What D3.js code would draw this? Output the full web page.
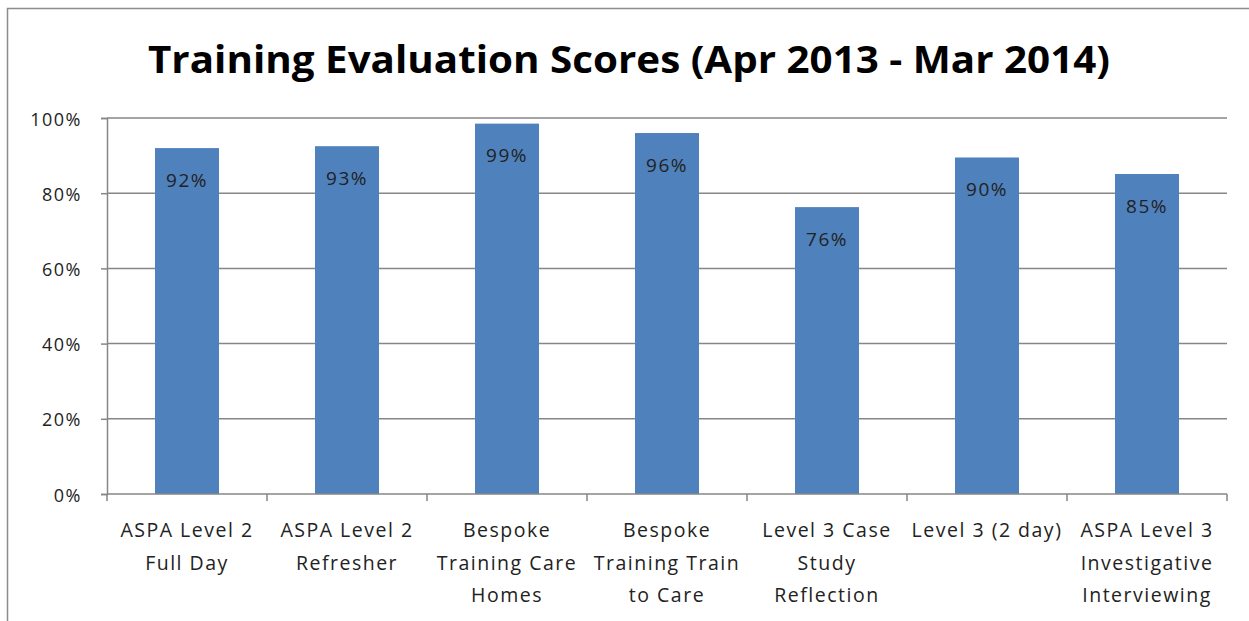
<!DOCTYPE html>
<html><head><meta charset="utf-8">
<script src="https://cdn.jsdelivr.net/npm/d3@7"></script>
<style>body{margin:0;background:#fff}svg{display:block}</style>
</head><body><svg id="c" width="1249" height="621"></svg>
<script>
const categories = ["ASPA Level 2\nFull Day","ASPA Level 2\nRefresher","Bespoke\nTraining Care\nHomes","Bespoke\nTraining Train\nto Care","Level 3 Case\nStudy\nReflection","Level 3 (2 day)","ASPA Level 3\nInvestigative\nInterviewing"];
const scores = [0.92, 0.925, 0.985, 0.96, 0.763, 0.895, 0.851];
const scoreLabels = ["92%","93%","99%","96%","76%","90%","85%"];
const yTicks = [0,0.2,0.4,0.6,0.8,1.0];
const title = "Training Evaluation Scores (Apr 2013 - Mar 2014)";

const svg = d3.select("#c");
const font = "'Open Sans', sans-serif";
const m = {left:107, right:1227, top:118, bottom:494};

svg.append("rect").attr("x",7.5).attr("y",8.5).attr("width",1300).attr("height",700)
  .attr("fill","#fff").attr("stroke","#8c8c8c").attr("stroke-width",1.5);

svg.append("text").attr("x",148).attr("y",73)
  .attr("font-family",font).attr("font-weight","bold").attr("font-size",38)
  .attr("textLength",962).attr("lengthAdjust","spacingAndGlyphs")
  .attr("fill","#000").text(title);

const x = d3.scaleBand().domain(categories).range([m.left,m.right]).paddingInner(0.6).paddingOuter(0.3);
const y = d3.scaleLinear().domain([0,1]).range([m.bottom,m.top]);

// gridlines
svg.append("g").selectAll("line").data(yTicks.slice(1)).join("line")
  .attr("x1",m.left).attr("x2",m.right).attr("y1",d=>y(d)).attr("y2",d=>y(d))
  .attr("stroke","#868686").attr("stroke-width",1.5);

// y axis
const ya = svg.append("g").attr("transform",`translate(${m.left},0)`)
  .call(d3.axisLeft(y).tickValues(yTicks).tickFormat(d3.format(".0%")).tickSize(6).tickPadding(19));
ya.select(".domain").attr("stroke","#868686").attr("stroke-width",1.5);
ya.selectAll(".tick line").attr("stroke","#868686").attr("stroke-width",1.5);
ya.selectAll("text").attr("font-family",font).attr("font-size",18).attr("letter-spacing",1.5)
  .attr("fill","#222").attr("dy",null).attr("y",7);

// bars
svg.append("g").selectAll("rect").data(categories).join("rect")
  .attr("x",d=>x(d)).attr("width",x.bandwidth())
  .attr("y",(d,i)=>y(scores[i])).attr("height",(d,i)=>y(0)-y(scores[i]))
  .attr("fill","#4F81BD");

// bar labels
svg.append("g").selectAll("text").data(categories).join("text")
  .attr("x",d=>x(d)+x.bandwidth()/2).attr("y",(d,i)=>y(scores[i])+38.5)
  .attr("text-anchor","middle").attr("font-family",font).attr("font-size",19).attr("letter-spacing",1.5)
  .attr("fill","#222")
  .text((d,i)=>scoreLabels[i]);

// x axis
const xa = svg.append("g");
xa.append("line").attr("x1",m.left).attr("x2",m.right).attr("y1",m.bottom).attr("y2",m.bottom)
  .attr("stroke","#868686").attr("stroke-width",1.5);
const bounds = d3.range(categories.length+1).map(i=>m.left+i*(m.right-m.left)/categories.length);
xa.selectAll("line.t").data(bounds).join("line").attr("class","t")
  .attr("x1",d=>d).attr("x2",d=>d).attr("y1",m.bottom).attr("y2",m.bottom+7)
  .attr("stroke","#868686").attr("stroke-width",1.5);
xa.selectAll("text").data(categories).join("text")
  .attr("text-anchor","middle").attr("font-family",font).attr("font-size",19.5).attr("letter-spacing",1.5)
  .attr("fill","#222")
  .each(function(d){
    const t = d3.select(this);
    const cx = x(d)+x.bandwidth()/2;
    d.split("\n").forEach((ln,k)=>{
      t.append("tspan").attr("x",cx).attr("y",537+k*32.5).text(ln);
    });
  });
</script></body></html>
